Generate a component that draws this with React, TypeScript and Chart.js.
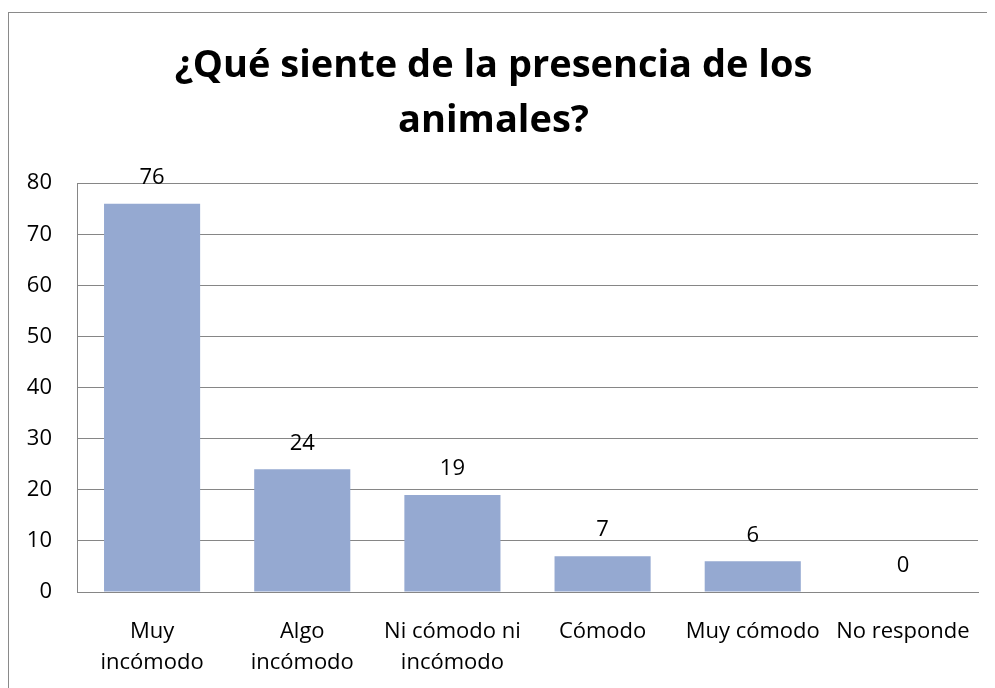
import React, { useEffect, useRef } from "react";
import { Chart, registerables } from "chart.js";

Chart.register(...registerables);

const TITLE_LINES = ["¿Qué siente de la presencia de los", "animales?"];
const CATEGORIES: (string | string[])[] = [
  ["Muy", "incómodo"],
  ["Algo", "incómodo"],
  ["Ni cómodo ni", "incómodo"],
  "Cómodo",
  "Muy cómodo",
  "No responde",
];
const VALUES = [76, 24, 19, 7, 6, 0];
const Y_MIN = 0;
const Y_MAX = 80;
const Y_STEP = 10;

const FONT = "'Open Sans', 'Noto Sans', sans-serif";
const GRID = "#868686";
const BAR = "#95A9D1";

const valueLabels = {
  id: "valueLabels",
  afterDatasetsDraw(chart: any) {
    const ctx = chart.ctx;
    const meta = chart.getDatasetMeta(0);
    ctx.save();
    ctx.font = `22px ${FONT}`;
    ctx.fillStyle = "#000";
    ctx.textAlign = "center";
    ctx.textBaseline = "middle";
    meta.data.forEach((bar: any, i: number) => {
      ctx.fillText(String(VALUES[i]), bar.x, bar.y - 26);
    });
    ctx.restore();
  },
};

export default function App() {
  const ref = useRef<HTMLCanvasElement>(null);
  useEffect(() => {
    if (!ref.current) return;
    const chart = new Chart(ref.current, {
      type: "bar",
      data: {
        labels: CATEGORIES,
        datasets: [
          {
            data: VALUES,
            backgroundColor: BAR,
            borderWidth: 0,
            categoryPercentage: 1,
            barPercentage: 0.64,
          },
        ],
      },
      options: {
        animation: false,
        responsive: false,
        maintainAspectRatio: false,
        layout: { padding: { left: 0, right: 14, top: 0, bottom: 0 } },
        plugins: {
          legend: { display: false },
          tooltip: { enabled: false },
          title: {
            display: true,
            text: TITLE_LINES,
            color: "#000",
            font: { family: FONT, size: 38, weight: "bold", lineHeight: 1.45 },
            padding: { top: 26, bottom: 34 },
          },
        },
        scales: {
          x: {
            grid: { display: false, drawTicks: false },
            border: { display: true, color: GRID, width: 1 },
            ticks: {
              color: "#000",
              font: { family: FONT, size: 22, lineHeight: 1.43 },
              padding: 24,
              maxRotation: 0,
              autoSkip: false,
            },
            afterFit: (scale: any) => {
              scale.height = 97;
              scale.paddingLeft = 0;
              scale.paddingRight = 0;
            },
          },
          y: {
            min: Y_MIN,
            max: Y_MAX,
            grid: { color: GRID, lineWidth: 1, drawTicks: false },
            border: { display: true, color: GRID, width: 1 },
            ticks: {
              stepSize: Y_STEP,
              color: "#000",
              font: { family: FONT, size: 22 },
              padding: 25,
            },
            afterFit: (scale: any) => {
              scale.width = 68;
            },
          },
        },
      },
      plugins: [valueLabels],
    });
    return () => chart.destroy();
  }, []);
  return (
    <div
      style={{
        width: 983,
        height: 690,
        marginTop: 4,
        border: "1px solid #8a8a8a",
        background: "#fff",
      }}
    >
      <canvas ref={ref} width={983} height={676} style={{ display: "block" }} />
    </div>
  );
}
